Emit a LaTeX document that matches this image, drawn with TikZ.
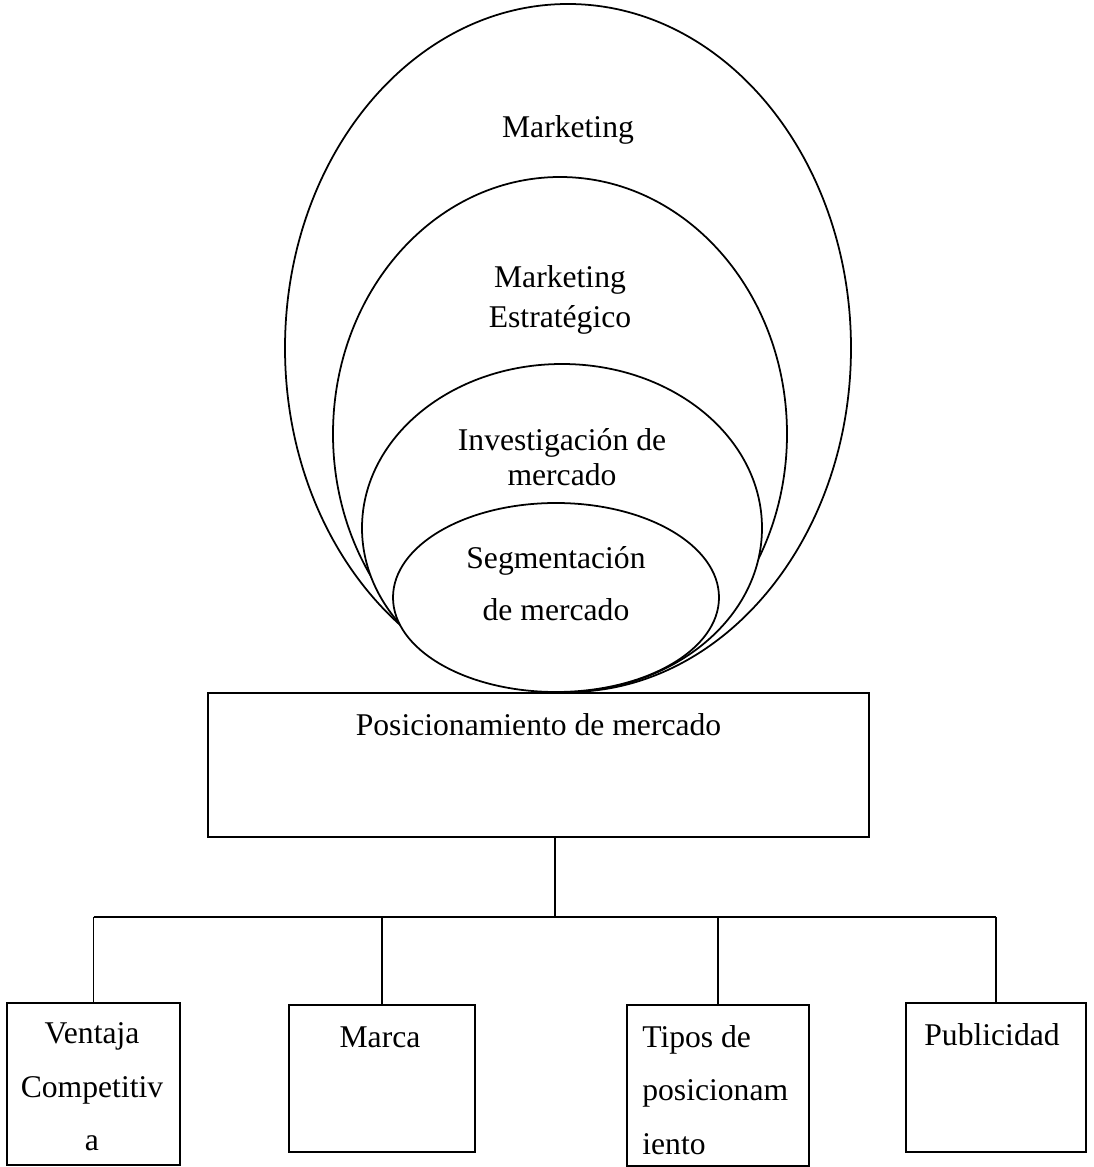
\documentclass[tikz,border=0pt]{standalone}
\usepackage{fontspec}
\setmainfont{Liberation Serif}
\usetikzlibrary{positioning}

\begin{document}
\begin{tikzpicture}[
  every node/.style={font=\fontsize{18}{22}\selectfont,inner sep=0pt},
  ring/.style={draw,fill=white,line width=1pt},
  frame/.style={draw,fill=white,line width=1pt},
  tie/.style={line width=1pt}]
  \useasboundingbox (0,0) rectangle (21.88,23.34);
  % nested ellipses, outer first
  \foreach \cx/\cy/\rx/\ry in {
    11.36/16.38/5.66/6.88,
    11.20/14.66/4.54/5.14,
    11.24/12.78/4.00/3.28,
    11.12/11.39/3.26/1.89} {
    \draw[ring] (\cx,\cy) ellipse [x radius=\rx, y radius=\ry];
  }
  \node (mkt) at (11.36,20.74) {Marketing};
  \node[align=center,font=\fontsize{18}{22.8}\selectfont] (mktest) at (11.2,17.34) {Marketing\\Estratégico};
  \node[align=center,font=\fontsize{18}{20}\selectfont] (invest) at (11.24,14.2) {Investigación de\\mercado};
  \node[align=center,font=\fontsize{18}{29.6}\selectfont] (segm) at (11.12,11.66) {Segmentación\\de mercado};

  % main box
  \node[frame,minimum width=13.22cm,minimum height=2.88cm] (pos) at (10.77,8.04) {};
  \node (postxt) at (10.77,8.84) {Posicionamiento de mercado};

  % lower boxes
  \foreach \nm/\x/\y/\w/\h in {
    vent/1.87/1.66/3.46/3.24,
    marca/7.64/1.77/3.72/2.94,
    tipos/14.36/1.63/3.64/3.22,
    publi/19.92/1.79/3.60/2.98} {
    \node[frame,minimum width=\w cm,minimum height=\h cm] (\nm) at (\x,\y) {};
  }
  \node[align=center,font=\fontsize{18}{30.4}\selectfont] (venttxt) at (1.84,1.6) {Ventaja\\Competitiv\\a};
  \node (marcatxt) at (7.6,2.6) {Marca};
  \node[align=left,anchor=west,font=\fontsize{18}{30.4}\selectfont] (tipostxt) at (12.84,1.54) {Tipos de\\posicionam\\iento};
  \node (publitxt) at (19.84,2.64) {Publicidad};

  % connectors
  \coordinate (hub) at (11.1,5.0);
  \draw[tie] (pos.south -| hub) -- (hub);
  \draw[tie] (vent.north |- hub) -- (publi.north |- hub);
  \foreach \nm in {vent,marca,tipos,publi} {
    \draw[tie] (\nm.north |- hub) -- (\nm.north);
  }
\end{tikzpicture}
\end{document}
